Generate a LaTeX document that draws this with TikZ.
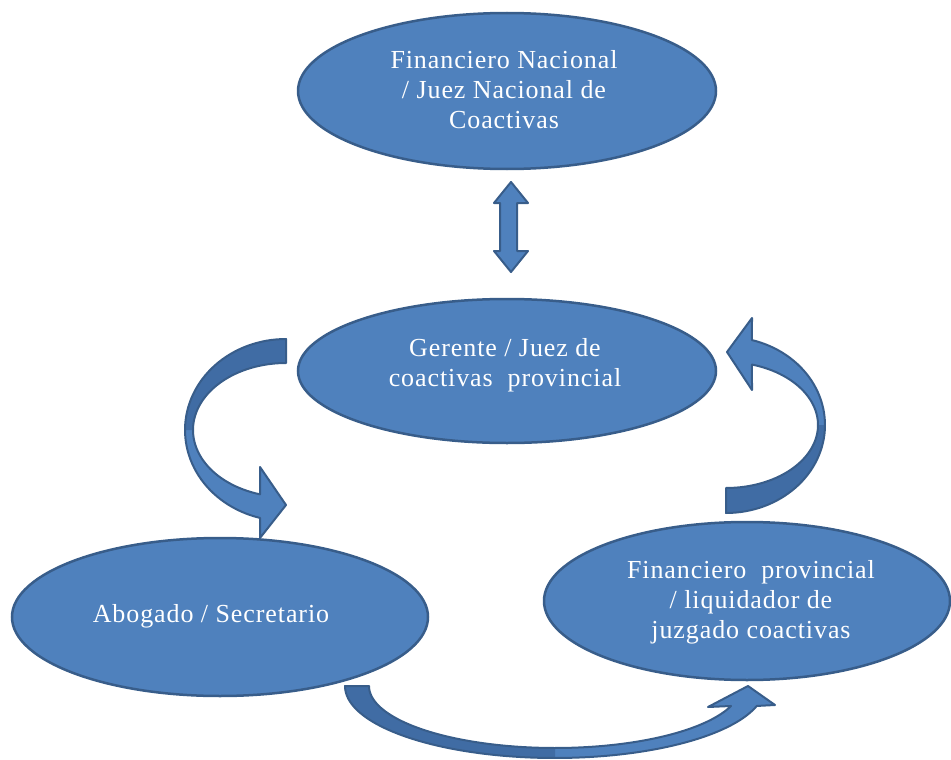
\documentclass[tikz,border=0pt]{standalone}
\usepackage{fontspec}
\setmainfont{Liberation Serif}[LetterSpace=3.5]
\usetikzlibrary{shapes.geometric}
\definecolor{fillb}{HTML}{4F81BD}
\definecolor{edgeb}{HTML}{385D8A}
\definecolor{darkb}{HTML}{406CA4}
\begin{document}
\begin{tikzpicture}[x=1pt,y=-1pt,
  bubble/.style={ellipse, fill=fillb, draw=edgeb, line width=2.5pt, inner sep=0pt},
  bubbletext/.style={text=white, font=\fontsize{26}{30}\selectfont, align=center, inner sep=0pt},
  arrowfill/.style={fill=fillb},
  arrowback/.style={fill=darkb},
  arrowline/.style={draw=edgeb, line width=2pt, line join=round}]
\useasboundingbox (0,0) rectangle (951,760);

% curved arrow paths
\def\pathLA{(286,339) -- plot[domain=270:104.9, samples=60] ({286+101*cos(\x)},{430+91*sin(\x)}) -- (260,538) -- (286,505) -- (260,467) -- plot[domain=106.2:270, samples=60] ({286+93*cos(\x)},{430+67*sin(\x)}) -- cycle}
\def\pathRA{(726,513) -- plot[domain=90:-74.8, samples=60] ({726+99*cos(\x)},{425+88*sin(\x)}) -- (752,318) -- (727,352) -- (752,390) -- plot[domain=-73.6:90, samples=60] ({726+92*cos(\x)},{425+63*sin(\x)}) -- cycle}
\def\pathBA{(345,686) -- plot[domain=180:16.1, samples=80] ({555+210*cos(\x)},{686+72*sin(\x)}) -- (775,705) -- (748,686) -- (708,707) -- plot[domain=18.8:180, samples=80] ({555+186*cos(\x)},{686+62*sin(\x)}) -- cycle}

% left curved arrow
\path[arrowfill] \pathLA;
\path[arrowback] plot[domain=270:180, samples=40] ({286+101*cos(\x)},{430+91*sin(\x)}) -- plot[domain=180:270, samples=40] ({286+93*cos(\x)},{430+67*sin(\x)}) -- cycle;
\path[arrowline] \pathLA;

% right curved arrow
\path[arrowfill] \pathRA;
\path[arrowback] plot[domain=90:0, samples=40] ({726+99*cos(\x)},{425+88*sin(\x)}) -- plot[domain=0:90, samples=40] ({726+92*cos(\x)},{425+63*sin(\x)}) -- cycle;
\path[arrowline] \pathRA;

% bottom curved arrow
\path[arrowfill] \pathBA;
\path[arrowback] plot[domain=180:90, samples=40] ({555+210*cos(\x)},{686+72*sin(\x)}) -- plot[domain=90:180, samples=40] ({555+186*cos(\x)},{686+62*sin(\x)}) -- cycle;
\path[arrowline] \pathBA;

% double arrow
\path[arrowfill, arrowline] (511,182) -- (528,203) -- (517,203) -- (517,251) -- (528,251) -- (511,272) -- (494,251) -- (500,251) -- (500,203) -- (494,203) -- cycle;

% ellipses
\node[bubble, minimum width=418pt, minimum height=156pt] (top) at (507,91) {};
\node[bubble, minimum width=418pt, minimum height=144pt] (mid) at (507,371) {};
\node[bubble, minimum width=416pt, minimum height=158pt] (left) at (220,617) {};
\node[bubble, minimum width=406pt, minimum height=158pt] (right) at (747,601) {};

% texts
\node[bubbletext] (ttop) at (504,90) {Financiero Nacional\\/ Juez Nacional de\\Coactivas};
\node[bubbletext] (tmid) at (505,365) {Gerente / Juez de\\coactivas~ provincial};
\node[bubbletext] (tleft) at (211,616) {Abogado / Secretario};
\node[bubbletext] (tright) at (751,602) {Financiero~ provincial\\/ liquidador de\\juzgado coactivas};
\end{tikzpicture}
\end{document}
